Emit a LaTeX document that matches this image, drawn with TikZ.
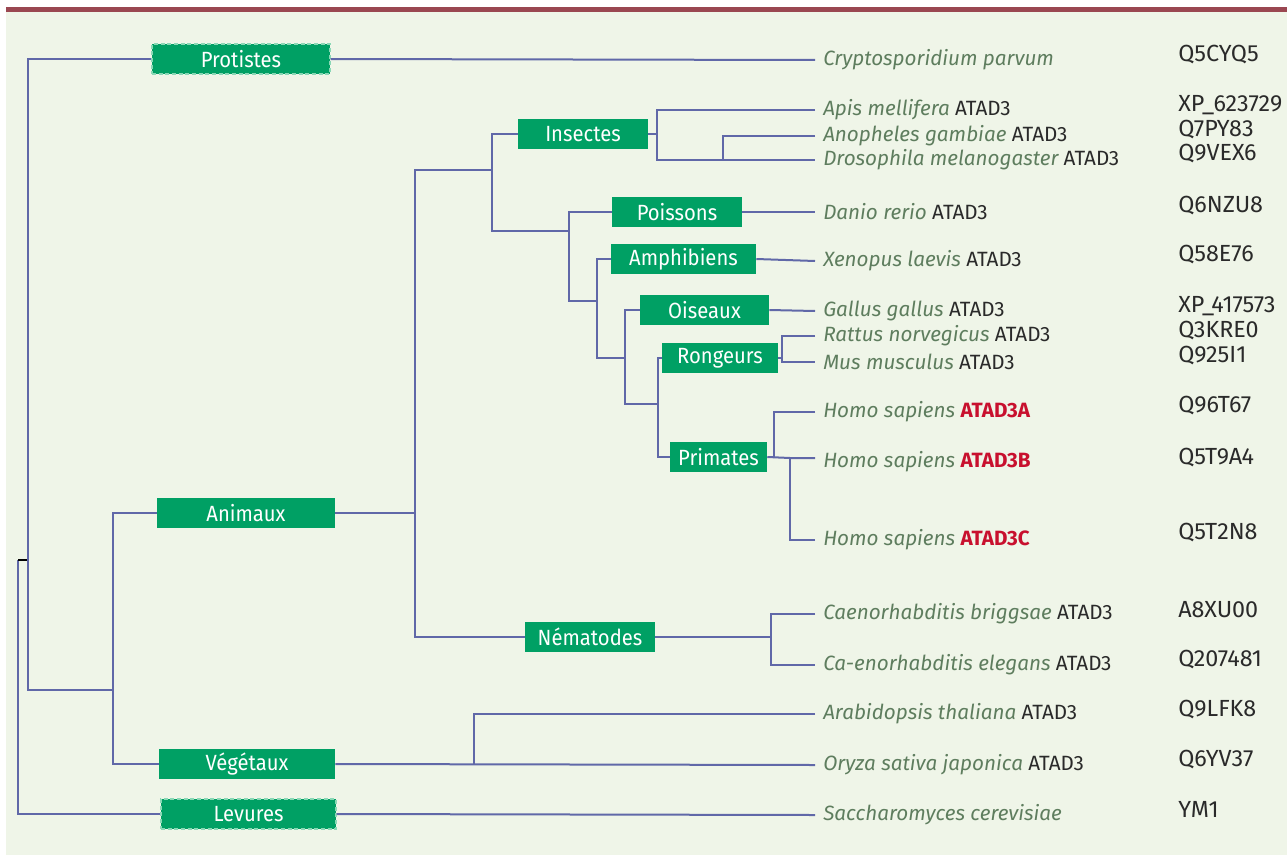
\documentclass[tikz,border=0pt]{standalone}
\usepackage{fontspec}
\setmainfont{Fira Sans}
\newfontfamily\idfont{Fira Sans}
\newfontfamily\boxfont[FakeStretch=0.92]{Fira Sans}
\definecolor{panel}{HTML}{EFF5E8}
\definecolor{topbar}{HTML}{9A4751}
\definecolor{branch}{HTML}{6068A8}
\definecolor{boxgreen}{HTML}{00A064}
\definecolor{dashgreen}{HTML}{8AD8B6}
\definecolor{spgreen}{HTML}{5E7D5E}
\definecolor{genedark}{HTML}{2A2A2A}
\definecolor{genered}{HTML}{C8102E}
\tikzset{
  br/.style={draw=branch, line width=1.5pt},
  taxon/.style={fill=boxgreen, text=white, minimum height=22.5pt, inner sep=0pt,
    font=\boxfont\fontsize{16.5}{18}\selectfont},
  taxondash/.style={taxon, draw=dashgreen, densely dashed, line width=0.8pt},
  sp/.style={anchor=west, inner xsep=6pt, inner ysep=1pt, text=spgreen,
    font=\fontsize{15.5}{17}\selectfont\itshape},
  pid/.style={anchor=west, inner sep=0pt, text=genedark,
    font=\idfont\fontsize{17.5}{19}\selectfont},
}
\newcommand{\gn}[1]{\textcolor{genedark}{\upshape #1}}
\newcommand{\gr}[1]{\textcolor{genered}{\upshape\bfseries #1}}
\begin{document}
\begin{tikzpicture}[x=0.75pt,y=-0.75pt]
\useasboundingbox (0,0) rectangle (1287,856);
\fill[white] (0,0) rectangle (1287,856);
\fill[panel] (6,12) rectangle (1287,855);
\fill[topbar] (6,7) rectangle (1287,12);

% taxon boxes
\node[taxondash, minimum width=133.5pt] (prot) at (241,59) {Protistes};
\node[taxon, minimum width=97.5pt] (ins) at (583,134) {Insectes};
\node[taxon, minimum width=97.5pt] (poi) at (677,212) {Poissons};
\node[taxon, minimum width=108.75pt] (amph) at (683.5,259) {Amphibiens};
\node[taxon, minimum width=96.75pt] (ois) at (704.5,310) {Oiseaux};
\node[taxon, minimum width=87pt] (rong) at (720,358) {Rongeurs};
\node[taxon, minimum width=72.75pt] (prim) at (718.5,457) {Primates};
\node[taxon, minimum width=133.5pt] (anim) at (246,513) {Animaux};
\node[taxon, minimum width=97.5pt] (nem) at (590,637) {Nématodes};
\node[taxon, minimum width=132pt] (veg) at (247,764) {Végétaux};
\node[taxondash, minimum width=131.25pt] (lev) at (248.5,814) {Levures};

% species
\node[sp] (cry) at (815,60) {Cryptosporidium parvum};
\node[sp] (apis) at (815,110) {Apis mellifera \gn{ATAD3}};
\node[sp] (ano) at (815,136) {Anopheles gambiae \gn{ATAD3}};
\node[sp] (dros) at (815,160) {Drosophila melanogaster \gn{ATAD3}};
\node[sp] (dan) at (815,212) {Danio rerio \gn{ATAD3}};
\node[sp] (xen) at (815,261) {Xenopus laevis \gn{ATAD3}};
\node[sp] (gal) at (815,311) {Gallus gallus \gn{ATAD3}};
\node[sp] (rat) at (815,336) {Rattus norvegicus \gn{ATAD3}};
\node[sp] (mus) at (815,362) {Mus musculus \gn{ATAD3}};
\node[sp] (ha) at (815,412) {Homo sapiens \gr{ATAD3A}};
\node[sp] (hb) at (815,462) {Homo sapiens \gr{ATAD3B}};
\node[sp] (hc) at (815,540) {Homo sapiens \gr{ATAD3C}};
\node[sp] (cb) at (815,614) {Caenorhabditis briggsae \gn{ATAD3}};
\node[sp] (ce) at (815,665) {Ca-enorhabditis elegans \gn{ATAD3}};
\node[sp] (ara) at (815,714) {Arabidopsis thaliana \gn{ATAD3}};
\node[sp] (ory) at (815,765) {Oryza sativa japonica \gn{ATAD3}};
\node[sp] (sac) at (815,815) {Saccharomyces cerevisiae};

% identifiers
\node[pid] (i1) at (1178,55) {Q5CYQ5};
\node[pid] (i2) at (1178,105) {XP\_623729};
\node[pid] (i3) at (1178,130) {Q7PY83};
\node[pid] (i4) at (1178,154) {Q9VEX6};
\node[pid] (i5) at (1178,206) {Q6NZU8};
\node[pid] (i6) at (1178,255) {Q58E76};
\node[pid] (i7) at (1178,306) {XP\_417573};
\node[pid] (i8) at (1178,331) {Q3KRE0};
\node[pid] (i9) at (1178,356) {Q925I1};
\node[pid] (i10) at (1178,406) {Q96T67};
\node[pid] (i11) at (1178,458) {Q5T9A4};
\node[pid] (i12) at (1178,533) {Q5T2N8};
\node[pid] (i13) at (1178,610) {A8XU00};
\node[pid] (i14) at (1178,660) {Q207481};
\node[pid] (i15) at (1178,710) {Q9LFK8};
\node[pid] (i16) at (1178,760) {Q6YV37};
\node[pid] (i17) at (1178,809) {YM1};

% junction coordinates
\coordinate (root) at (18,560);
\coordinate (j0) at (28,560);
\coordinate (j1) at (28,690);
\coordinate (j2) at (113,690);
\coordinate (a1) at (415,513);
\coordinate (a2) at (492,170);
\coordinate (b2) at (569,231);
\coordinate (b3) at (597,301);
\coordinate (b4) at (625,358);
\coordinate (b5) at (658,404);
\coordinate (in1) at (657,134);
\coordinate (in2) at (723,160);
\coordinate (r1) at (782,358);
\coordinate (p1) at (774,458);
\coordinate (p2) at (790,458);
\coordinate (n1) at (771,637);
\coordinate (v1) at (474,765);

% branches
\draw[br] (lev.west) -| (root);
\draw[black, line width=1.2pt] (root) -- (j0);
\draw[br] (prot.west) -| (j1) -- (j2);
\draw[br] (anim.west) -| (j2) |- (veg.west);
\draw[br] (prot.east) -- (cry.west);
\draw[br] (lev.east) -- (sac.west);
\draw[br] (veg.east) -- (ory.west);
\draw[br] (ara.west) -| (v1);
\draw[br] (anim.east) -- (a1);
\draw[br] (nem.west) -| (a1) |- (a2);
\draw[br] (ins.west) -| (a2) |- (b2);
\draw[br] (poi.west) -| (b2) |- (b3);
\draw[br] (amph.west) -| (b3) |- (b4);
\draw[br] (ois.west) -| (b4) |- (b5);
\draw[br] (rong.west) -| (b5) |- (prim.west);
\draw[br] (ins.east) -- (in1);
\draw[br] (apis.west) -| (in1) |- (dros.west);
\draw[br] (ano.west) -| (in2);
\draw[br] (poi.east) -- (dan.west);
\draw[br] (amph.east) -- (xen.west);
\draw[br] (ois.east) -- (gal.west);
\draw[br] (rong.east) -- (r1);
\draw[br] (rat.west) -| (r1) |- (mus.west);
\draw[br] (prim.east) -- (p2) -- (hb.west |- p2);
\draw[br] (ha.west) -| (p1);
\draw[br] (hc.west) -| (p2);
\draw[br] (nem.east) -- (n1);
\draw[br] (cb.west) -| (n1) |- (ce.west);
\end{tikzpicture}
\end{document}
